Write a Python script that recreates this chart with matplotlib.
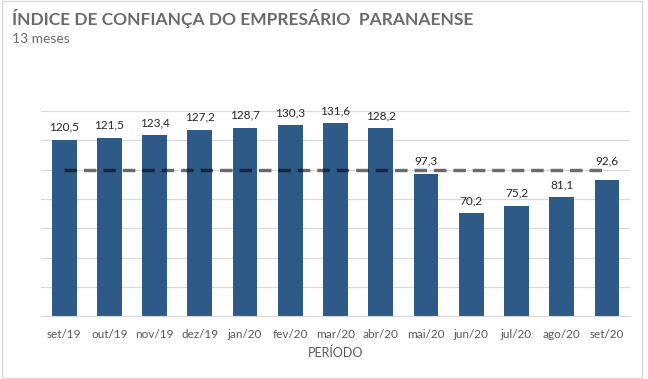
import matplotlib.pyplot as plt
from matplotlib.patches import Rectangle

### dados
periodos = ['set/19', 'out/19', 'nov/19', 'dez/19', 'jan/20', 'fev/20', 'mar/20',
            'abr/20', 'mai/20', 'jun/20', 'jul/20', 'ago/20', 'set/20']
valores = [120.5, 121.5, 123.4, 127.2, 128.7, 130.3, 131.6, 128.2, 97.3, 70.2, 75.2, 81.1, 92.6]
rotulos = ['120,5', '121,5', '123,4', '127,2', '128,7', '130,3', '131,6',
           '128,2', '97,3', '70,2', '75,2', '81,1', '92,6']
linha_base = 100

plt.rcParams['font.family'] = ['Lato', 'DejaVu Sans']

fig = plt.figure(figsize=(6.48, 3.79), dpi=100)
ax = fig.add_axes([0.064, 0.166, 0.9076, 0.541])

x = list(range(len(periodos)))
ax.bar(x, valores, width=0.55, color='#2E5A88', zorder=2)
for xi, v, r in zip(x, valores, rotulos):
    # rótulo que cairia sobre a linha tracejada vai para cima dela
    y_txt = v + 5
    if v < linha_base < v + 12:
        y_txt = linha_base + 2.5
    ax.text(xi, y_txt, r, ha='center', va='bottom', fontsize=8.5, color='#262626')

### linha tracejada (100)
ax.plot([x[0], x[-1]], [linha_base, linha_base], color='black', alpha=0.55,
        lw=2.5, dashes=(3.6, 2), zorder=3)

ax.set_xlim(-0.5, len(periodos) - 0.5)
ax.set_ylim(0, 140)
ax.set_yticks(range(0, 141, 20))
ax.yaxis.grid(True, color='#d9d9d9', lw=0.9, zorder=0)
ax.tick_params(axis='y', left=False, labelleft=False)
ax.tick_params(axis='x', length=0, pad=9, labelsize=8.5, labelcolor='#595959')
ax.set_xticks(x)
ax.set_xticklabels(periodos)
for s in ['top', 'left', 'right']:
    ax.spines[s].set_visible(False)
ax.spines['bottom'].set_color('#d9d9d9')
ax.set_xlabel('PERÍODO', fontsize=9, color='#595959', labelpad=5)

### títulos
fig.text(0.018, 0.952, 'ÍNDICE DE CONFIANÇA DO EMPRESÁRIO  PARANAENSE', fontsize=12.5,
         fontweight='bold', color='#6b6b6b', va='center')
fig.text(0.018, 0.898, '13 meses', fontsize=10, color='#6b6b6b', va='center')

### borda
fig.patches.append(Rectangle((0.003, 0.003), 0.988, 0.994, transform=fig.transFigure,
                             fill=False, edgecolor='#d9d9d9', lw=1))

fig.savefig('out.png', dpi=100)
